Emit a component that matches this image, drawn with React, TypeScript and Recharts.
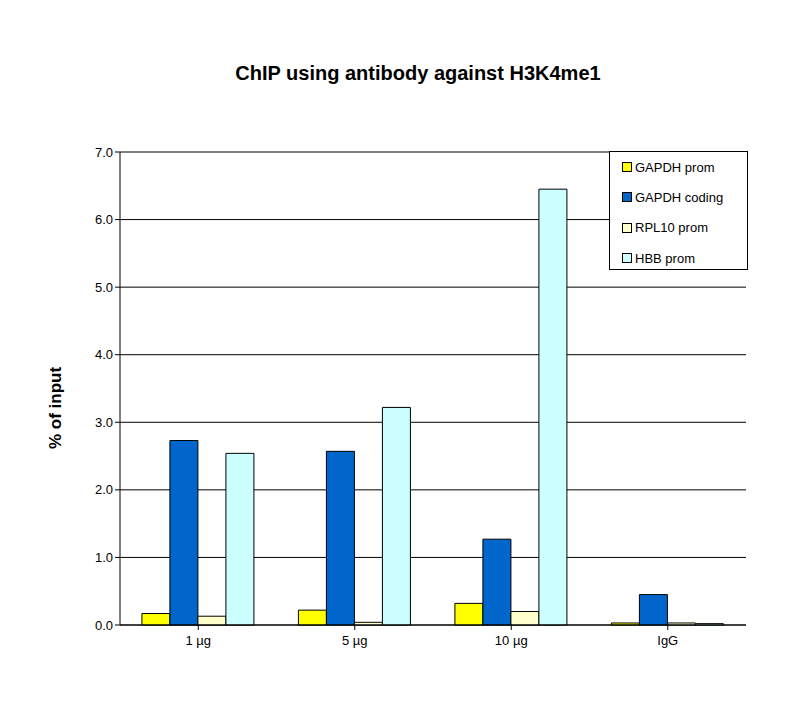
import React from "react";
import { BarChart, Bar, XAxis, YAxis, CartesianGrid } from "recharts";

const categories = ["1 µg", "5 µg", "10 µg", "IgG"];
const gapdhProm = [0.17, 0.22, 0.32, 0.03];
const gapdhCoding = [2.73, 2.57, 1.27, 0.45];
const rpl10Prom = [0.13, 0.04, 0.2, 0.03];
const hbbProm = [2.54, 3.22, 6.45, 0.02];
const yTicks = [0, 1, 2, 3, 4, 5, 6, 7];

const series = [
  { key: "g1", name: "GAPDH prom", color: "#FFFF00" },
  { key: "g2", name: "GAPDH coding", color: "#0066CC" },
  { key: "r", name: "RPL10 prom", color: "#FFFFCC" },
  { key: "h", name: "HBB prom", color: "#CCFFFF" },
];

const data = categories.map((c, i) => ({
  cat: c,
  g1: gapdhProm[i],
  g2: gapdhCoding[i],
  r: rpl10Prom[i],
  h: hbbProm[i],
}));

const font = "'Liberation Sans', Arial, sans-serif";

export default function App() {
  return (
    <div style={{ margin: -8, width: 801, height: 705, position: "relative", fontFamily: font }}>
      <div style={{ position: "absolute", left: 0, top: 62, width: 836, textAlign: "center", fontWeight: "bold", fontSize: 20 }}>
        ChIP using antibody against H3K4me1
      </div>
      <div style={{ position: "absolute", left: 56, top: 408, transform: "translate(-50%,-50%) rotate(-90deg)", fontWeight: "bold", fontSize: 17, whiteSpace: "nowrap" }}>
        % of input
      </div>
      <BarChart width={801} height={705} data={data} margin={{ top: 152, right: 55, bottom: 0, left: 0 }} barCategoryGap="14%" barGap={0}>
        <CartesianGrid vertical={false} stroke="#000" />
        <XAxis dataKey="cat" stroke="#000" tickSize={5} tick={{ fill: "#000", fontSize: 13, fontFamily: font }} tickMargin={6} height={80} />
        <YAxis width={120} domain={[0, 7]} ticks={yTicks} interval={0} tickFormatter={(v) => v.toFixed(1)} stroke="#000" tickSize={5} tick={{ fill: "#000", fontSize: 13, fontFamily: font }} />
        {series.map((s) => (
          <Bar key={s.key} dataKey={s.key} name={s.name} fill={s.color} stroke="#000" strokeWidth={1} isAnimationActive={false} />
        ))}
      </BarChart>
      <div style={{ position: "absolute", left: 609, top: 151, border: "1px solid #000", background: "#fff", width: 139, height: 119, boxSizing: "border-box", padding: "0 0 0 12px", fontSize: 13 }}>
        {series.map((s) => (
          <div key={s.key} style={{ display: "flex", alignItems: "center", height: 30.3 }}>
            <span style={{ display: "inline-block", width: 8, height: 8, background: s.color, border: "1px solid #000", marginRight: 3 }} />
            <span>{s.name}</span>
          </div>
        ))}
      </div>
      <div style={{ position: "absolute", left: 0, top: 0, width: 799, height: 703, border: "1px solid #000", pointerEvents: "none" }} />
    </div>
  );
}
